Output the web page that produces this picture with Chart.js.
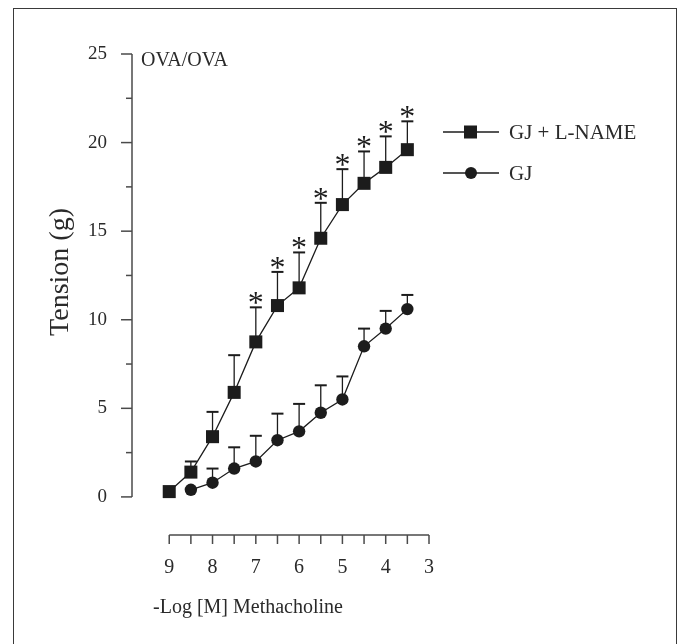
<!DOCTYPE html>
<html>
<head>
<meta charset="utf-8">
<script src="https://cdn.jsdelivr.net/npm/chart.js@4/dist/chart.umd.min.js"></script>
<style>
  html, body { margin: 0; padding: 0; background: #fff; }
  #wrap { position: relative; width: 684px; height: 644px; overflow: hidden; }
  #frame { position: absolute; left: 13px; top: 8px; width: 664px; height: 700px;
           border: 1.5px solid #3a3a3a; box-sizing: border-box; }
  canvas { position: absolute; left: 0; top: 0; }
</style>
</head>
<body>
<div id="wrap">
  <div id="frame"></div>
  <canvas id="chart" width="684" height="644"></canvas>
</div>
<script>
// x positions (-log M)
const xLname = [9, 8.5, 8, 7.5, 7, 6.5, 6, 5.5, 5, 4.5, 4, 3.5];
const xGj = [8.5, 8, 7.5, 7, 6.5, 6, 5.5, 5, 4.5, 4, 3.5];

// GJ + L-NAME (squares)
const lnameMean = [0.3, 1.4, 3.4, 5.9, 8.75, 10.8, 11.8, 14.6, 16.5, 17.7, 18.6, 19.6];
const lnameTop  = [null, 2.0, 4.8, 8.0, 10.7, 12.7, 13.8, 16.6, 18.5, 19.5, 20.35, 21.2];
const lnameSig  = [false, false, false, false, true, true, true, true, true, true, true, true];

// GJ (circles)
const gjMean = [0.4, 0.8, 1.6, 2.0, 3.2, 3.7, 4.75, 5.5, 8.5, 9.5, 10.6];
const gjTop  = [null, 1.6, 2.8, 3.45, 4.7, 5.25, 6.3, 6.8, 9.5, 10.5, 11.4];

const xTicks = [9, 8.5, 8, 7.5, 7, 6.5, 6, 5.5, 5, 4.5, 4, 3.5, 3];
const yTicks = [0, 5, 10, 15, 20, 25];
const yMinor = [2.5, 7.5, 12.5, 17.5, 22.5];

const seriesNames = ['GJ + L-NAME', 'GJ'];
const FONT = '"Liberation Serif", "Times New Roman", serif';
const INK = '#1c1c1c';
const AXIS = '#4a4a4a';

function pts(xs, ys) { return xs.map((x, i) => ({ x: x, y: ys[i] })); }

const decor = {
  id: 'decor',
  beforeDatasetsDraw(chart) {
    const ctx = chart.ctx;
    const xs = chart.scales.x, ys = chart.scales.y;
    ctx.save();
    ctx.strokeStyle = INK;
    const bars = [[xLname, lnameMean, lnameTop], [xGj, gjMean, gjTop]];
    bars.forEach(([xv, mv, tv]) => {
      xv.forEach((x, i) => {
        if (tv[i] == null) return;
        const px = xs.getPixelForValue(x);
        const py = ys.getPixelForValue(mv[i]);
        const pt = ys.getPixelForValue(tv[i]);
        ctx.lineWidth = 1.3;
        ctx.beginPath();
        ctx.moveTo(px, py); ctx.lineTo(px, pt);
        ctx.stroke();
        ctx.lineWidth = 2;
        ctx.beginPath();
        ctx.moveTo(px - 6, pt); ctx.lineTo(px + 6, pt);
        ctx.stroke();
      });
    });
    ctx.restore();
  },
  afterDraw(chart) {
    const ctx = chart.ctx;
    const xs = chart.scales.x, ys = chart.scales.y;
    const area = chart.chartArea;
    ctx.save();
    ctx.strokeStyle = AXIS;
    ctx.lineWidth = 1.5;

    // y axis
    const yl = area.left;
    ctx.beginPath();
    ctx.moveTo(yl, ys.getPixelForValue(25));
    ctx.lineTo(yl, ys.getPixelForValue(0));
    ctx.stroke();
    yTicks.forEach(v => {
      const p = ys.getPixelForValue(v);
      ctx.beginPath(); ctx.moveTo(yl - 11, p); ctx.lineTo(yl, p); ctx.stroke();
    });
    yMinor.forEach(v => {
      const p = ys.getPixelForValue(v);
      ctx.beginPath(); ctx.moveTo(yl - 6, p); ctx.lineTo(yl, p); ctx.stroke();
    });

    // x axis (detached, below)
    const xb = area.bottom;
    ctx.beginPath();
    ctx.moveTo(xs.getPixelForValue(9), xb);
    ctx.lineTo(xs.getPixelForValue(3), xb);
    ctx.stroke();
    xTicks.forEach(v => {
      const p = xs.getPixelForValue(v);
      ctx.beginPath(); ctx.moveTo(p, xb); ctx.lineTo(p, xb + 9); ctx.stroke();
    });

    // significance stars
    ctx.fillStyle = INK;
    ctx.font = '32px ' + FONT;
    ctx.textAlign = 'center';
    ctx.textBaseline = 'alphabetic';
    xLname.forEach((x, i) => {
      if (!lnameSig[i]) return;
      const px = xs.getPixelForValue(x);
      const pt = ys.getPixelForValue(lnameTop[i]);
      ctx.fillText('*', px, pt + 6);
    });

    // titles
    ctx.fillStyle = '#2a2a2a';
    ctx.font = '20px ' + FONT;
    ctx.textAlign = 'left';
    ctx.textBaseline = 'middle';
    ctx.fillText('OVA/OVA', yl + 9, ys.getPixelForValue(25) + 7);

    ctx.font = '20px ' + FONT;
    ctx.fillText('-Log [M] Methacholine', 153, 608);

    ctx.save();
    ctx.translate(68, 272);
    ctx.rotate(-Math.PI / 2);
    ctx.font = '28px ' + FONT;
    ctx.textAlign = 'center';
    ctx.textBaseline = 'alphabetic';
    ctx.fillText('Tension (g)', 0, 0);
    ctx.restore();

    // legend
    const rows = [[132, 'rect'], [173, 'circle']];
    rows.forEach(([ly, shape], i) => {
      ctx.strokeStyle = INK;
      ctx.lineWidth = 1.3;
      ctx.beginPath(); ctx.moveTo(443, ly); ctx.lineTo(499, ly); ctx.stroke();
      ctx.fillStyle = INK;
      if (shape === 'rect') {
        ctx.fillRect(464, ly - 6.5, 13, 13);
      } else {
        ctx.beginPath(); ctx.arc(471, ly, 6, 0, Math.PI * 2); ctx.fill();
      }
      ctx.fillStyle = '#2a2a2a';
      ctx.font = '21px ' + FONT;
      ctx.textAlign = 'left';
      ctx.textBaseline = 'middle';
      ctx.fillText(seriesNames[i], 509, ly + 1);
    });
    ctx.restore();
  }
};

new Chart(document.getElementById('chart'), {
  type: 'line',
  data: {
    datasets: [
      {
        label: seriesNames[0],
        data: pts(xLname, lnameMean),
        borderColor: INK,
        backgroundColor: INK,
        borderWidth: 1.3,
        pointStyle: 'rect',
        pointRadius: 9.2,
        pointBorderWidth: 0,
        tension: 0,
        clip: false
      },
      {
        label: seriesNames[1],
        data: pts(xGj, gjMean),
        borderColor: INK,
        backgroundColor: INK,
        borderWidth: 1.3,
        pointStyle: 'circle',
        pointRadius: 6.2,
        pointBorderWidth: 0,
        tension: 0,
        clip: false
      }
    ]
  },
  options: {
    responsive: false,
    animation: false,
    events: [],
    layout: { padding: { left: 0, top: 54, right: 255, bottom: 0 } },
    plugins: { legend: { display: false }, tooltip: { enabled: false } },
    scales: {
      x: {
        type: 'linear',
        reverse: true,
        min: 3,
        max: 9.86,
        grid: { display: false },
        border: { display: false },
        afterBuildTicks: s => { s.ticks = xTicks.map(v => ({ value: v })); },
        afterFit: s => { s.height = 644 - 535; },
        ticks: {
          autoSkip: false,
          maxRotation: 0,
          padding: 13,
          color: '#2a2a2a',
          font: { family: FONT, size: 20 },
          callback: v => (Number.isInteger(v) ? String(v) : '')
        }
      },
      y: {
        type: 'linear',
        min: -2.15,
        max: 25,
        grid: { display: false },
        border: { display: false },
        afterBuildTicks: s => { s.ticks = yTicks.map(v => ({ value: v })); },
        afterFit: s => { s.width = 132; },
        ticks: {
          padding: 17,
          color: '#2a2a2a',
          font: { family: FONT, size: 19 },
          callback: v => String(v)
        }
      }
    }
  },
  plugins: [decor]
});
</script>
</body>
</html>
